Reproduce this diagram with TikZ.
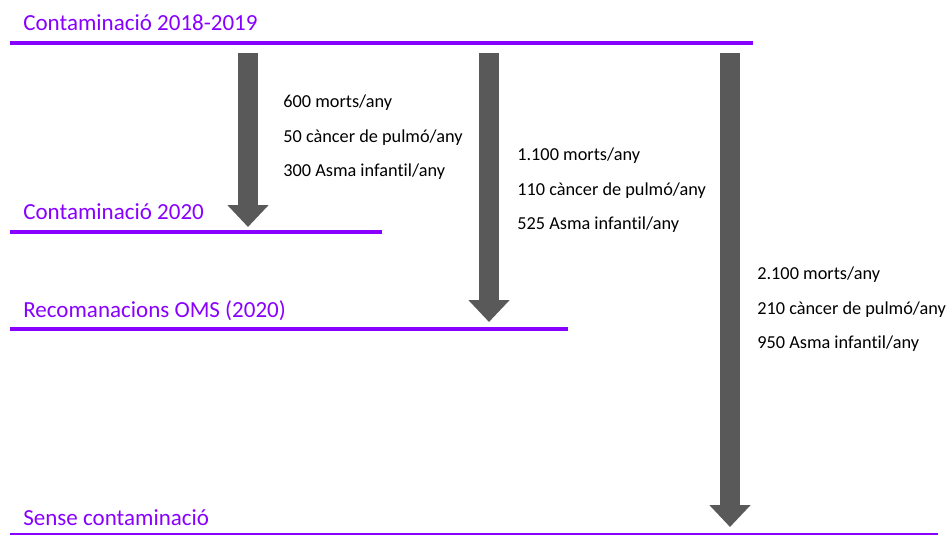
\documentclass[tikz,border=0pt]{standalone}
\usepackage{fontspec}
\setmainfont[Ligatures=NoCommon]{Carlito}
\usetikzlibrary{arrows.meta,positioning}
\definecolor{lilac}{RGB}{136,0,255}
\definecolor{arrowgray}{RGB}{89,89,89}

\begin{document}
\begin{tikzpicture}[
    x=0.02cm, y=-0.02cm,
    levellabel/.style={
        anchor=base west,
        inner sep=0pt,
        text=lilac,
        font=\fontsize{13.1}{15}\selectfont
    },
    levelline/.style={
        draw=lilac,
        line width=2.6pt
    },
    stat/.style={
        anchor=base west,
        inner sep=0pt,
        font=\fontsize{10.4}{13}\selectfont
    },
    fatarrow/.style={
        draw=arrowgray,
        line width=0.4cm,
        -{Triangle[width=0.8cm,length=0.44cm]}
    }
]
    \useasboundingbox (0,0) rectangle (952,536);

    % Levels
    \node[levellabel] (lvl0) at (23,31) {Contaminació 2018-2019};
    \node[levellabel] (lvl1) at (23,220) {Contaminació 2020};
    \node[levellabel] (lvl2) at (23,318) {Recomanacions OMS (2020)};
    \node[levellabel] (lvl3) at (23,525) {Sense contaminació};

    \draw[levelline] (10,43) -- (753,43);
    \draw[levelline] (10,232) -- (382,232);
    \draw[levelline] (10,329) -- (568,329);
    \draw[draw=lilac, line width=0.8pt] (10,534) -- (938,534);

    % Arrows
    \coordinate (a1s) at (248,53);
    \coordinate (a1e) at (248,227);
    \coordinate (a2s) at (489,53);
    \coordinate (a2e) at (489,322);
    \coordinate (a3s) at (730,53);
    \coordinate (a3e) at (730,527);
    \draw[fatarrow] (a1s) -- (a1e);
    \draw[fatarrow] (a2s) -- (a2e);
    \draw[fatarrow] (a3s) -- (a3e);

    % Figures
    \foreach \t [count=\i] in {600 morts/any, 50 càncer de pulmó/any, 300 Asma infantil/any}
        \node[stat] (s1\i) at (283, {108+34.5*(\i-1)}) {\t};
    \foreach \t [count=\i] in {1.100 morts/any, 110 càncer de pulmó/any, 525 Asma infantil/any}
        \node[stat] (s2\i) at (517, {161+34.5*(\i-1)}) {\t};
    \foreach \t [count=\i] in {2.100 morts/any, 210 càncer de pulmó/any, 950 Asma infantil/any}
        \node[stat] (s3\i) at (757, {280+34.5*(\i-1)}) {\t};
\end{tikzpicture}
\end{document}
